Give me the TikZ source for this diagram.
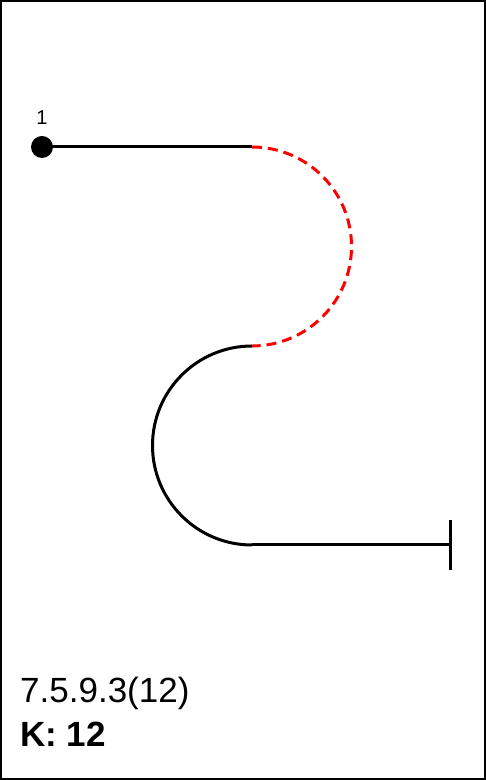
\documentclass[tikz,border=0pt]{standalone}
\usepackage{fontspec}
\setmainfont{Liberation Sans}
\usetikzlibrary{calc,arrows.meta}

\begin{document}
\begin{tikzpicture}[x=1pt,y=1pt,
    strand/.style={line width=3pt},
    loopdash/.style={strand, red, dash pattern=on 10pt off 6pt},
    enddot/.style={circle, fill=black, inner sep=0pt, minimum size=22pt}]
					\useasboundingbox (0,0) rectangle (486,780);
					\draw [line width=2pt] (1,1) rectangle (485,779);
					\node[enddot] (start) at (42, 633) {};
					\node (startlabel) at ($(start) + (0, 29)$) {\fontsize{20}{24}\selectfont 1};
            		\coordinate (top) at (252, 633);
            		\coordinate (mid) at (252, 434);
            		\coordinate (low) at (252, 235);
            		\coordinate (tail) at (452, 235);
            		%\node (caption) at (20, 77) {};
            		\draw [strand] (start.center) -- (top);
            		\draw [loopdash] (top) arc (90:-90:99.5);
            		\draw [strand] (mid) arc (90:270:99.5);
            		\draw [strand, -{Bar[width=50pt]}] (low) -- (tail);
					\node[anchor=base west, inner sep=0pt] (code) at (20, 77) {\fontsize{35}{42}\selectfont 7.5.9.3(12)};
					\node[anchor=base west, inner sep=0pt] (kval) at (20, 34) {\fontsize{35}{42}\selectfont\bfseries K: 12};
				\end{tikzpicture}
\end{document}
